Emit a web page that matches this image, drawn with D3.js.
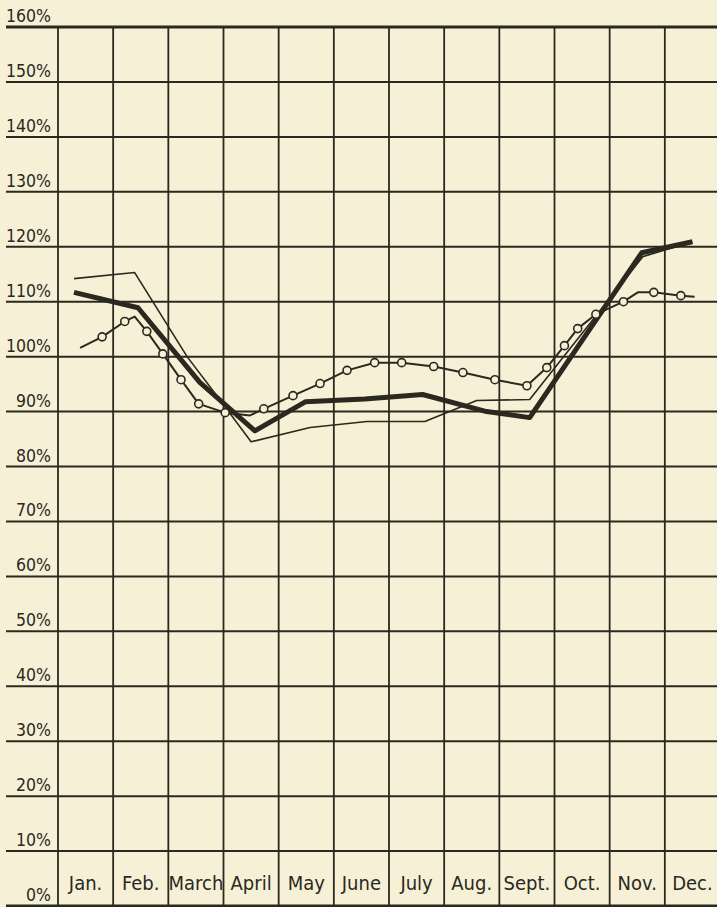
<!DOCTYPE html>
<html>
<head>
<meta charset="utf-8">
<script src="https://cdn.jsdelivr.net/npm/d3@7"></script>
<style>
  html, body { margin: 0; padding: 0; background: #f6f1d6; }
  svg { display: block; }
  text { font-family: "DejaVu Sans Condensed", "DejaVu Sans", sans-serif; fill: #2a281f; }
</style>
</head>
<body>
<div id="chart"></div>
<script>
// months and percentage ticks
const months = ["Jan.", "Feb.", "March", "April", "May", "June", "July", "Aug.", "Sept.", "Oct.", "Nov.", "Dec."];
const yTicks = d3.range(0, 161, 10);

// heavy line: position in months (0 = start of Jan.) and percent
const heavyPos = [0.29, 1.45, 2.57, 3.57, 4.49, 5.56, 6.61, 7.77, 8.55, 10.58, 11.50];
const heavyVal = [111.7, 108.9, 95.3, 86.5, 91.8, 92.3, 93.1, 90.0, 88.9, 118.9, 120.9];

// thin line
const thinPos = [0.29, 1.39, 2.34, 2.93, 3.50, 4.57, 5.60, 6.65, 7.59, 8.55, 10.60, 11.50];
const thinVal = [114.2, 115.3, 100.0, 92.2, 84.5, 87.1, 88.2, 88.2, 92.0, 92.2, 118.2, 120.9];

// line with circles (1 = circle drawn at the vertex)
const ringPos = [0.40, 0.80, 1.21, 1.39, 1.61, 1.90, 2.23, 2.55, 3.03, 3.48, 3.73, 4.26, 4.75, 5.24, 5.74,
                 6.23, 6.81, 7.34, 7.92, 8.50, 8.86, 9.18, 9.42, 9.75, 10.25, 10.51, 10.80, 11.29, 11.54];
const ringVal = [101.6, 103.6, 106.4, 107.3, 104.6, 100.5, 95.8, 91.4, 89.8, 89.3, 90.5, 92.9, 95.1, 97.5, 98.9,
                 98.9, 98.2, 97.1, 95.8, 94.7, 98.0, 102.0, 105.1, 107.7, 110.0, 111.7, 111.7, 111.1, 110.9];
const ringMark = [0, 1, 1, 0, 1, 1, 1, 1, 1, 0, 1, 1, 1, 1, 1,
                  1, 1, 1, 1, 1, 1, 1, 1, 1, 1, 0, 1, 1, 0];

const W = 717, H = 907;
const ink = "#2a281f", paper = "#f6f1d6";

const svg = d3.select("#chart").append("svg")
  .attr("width", W)
  .attr("height", H);

svg.append("rect").attr("width", W).attr("height", H).attr("fill", paper);

const x = d3.scaleLinear().domain([0, 12]).range([58, 720]);
const y = d3.scaleLinear().domain([0, 160]).range([906, 27]);

// horizontal rules
svg.append("g")
  .selectAll("line")
  .data(yTicks)
  .join("line")
  .attr("x1", 6)
  .attr("x2", W)
  .attr("y1", d => y(d))
  .attr("y2", d => y(d))
  .attr("stroke", ink)
  .attr("stroke-width", d => (d === 160 || d === 0) ? 3 : 2);

// vertical month rules
svg.append("g")
  .selectAll("line")
  .data(d3.range(0, 12))
  .join("line")
  .attr("x1", d => x(d))
  .attr("x2", d => x(d))
  .attr("y1", y(160))
  .attr("y2", y(0))
  .attr("stroke", ink)
  .attr("stroke-width", 1.8);

// percentage labels, sitting on their rule
svg.append("g")
  .selectAll("text")
  .data(yTicks)
  .join("text")
  .attr("x", 51)
  .attr("y", d => y(d) - 5)
  .attr("text-anchor", "end")
  .attr("font-size", "17.5px")
  .text(d => d + "%");

// month names in the bottom row
svg.append("g")
  .selectAll("text")
  .data(months)
  .join("text")
  .attr("x", (d, i) => x(i + 0.5))
  .attr("y", y(2.9))
  .attr("text-anchor", "middle")
  .attr("font-size", "20px")
  .text(d => d);

const line = d3.line().x(d => x(d[0])).y(d => y(d[1]));

const thinData = d3.zip(thinPos, thinVal);
const heavyData = d3.zip(heavyPos, heavyVal);
const ringData = d3.zip(ringPos, ringVal, ringMark);

svg.append("path")
  .attr("d", line(thinData))
  .attr("fill", "none")
  .attr("stroke", ink)
  .attr("stroke-width", 1.6)
  .attr("stroke-linejoin", "round");

svg.append("path")
  .attr("d", line(ringData))
  .attr("fill", "none")
  .attr("stroke", ink)
  .attr("stroke-width", 2)
  .attr("stroke-linejoin", "round");

svg.append("path")
  .attr("d", line(heavyData))
  .attr("fill", "none")
  .attr("stroke", ink)
  .attr("stroke-width", 5)
  .attr("stroke-linejoin", "round");

svg.append("g")
  .selectAll("circle")
  .data(ringData.filter(d => d[2] === 1))
  .join("circle")
  .attr("cx", d => x(d[0]))
  .attr("cy", d => y(d[1]))
  .attr("r", 4)
  .attr("fill", paper)
  .attr("stroke", ink)
  .attr("stroke-width", 1.6);
</script>
</body>
</html>
